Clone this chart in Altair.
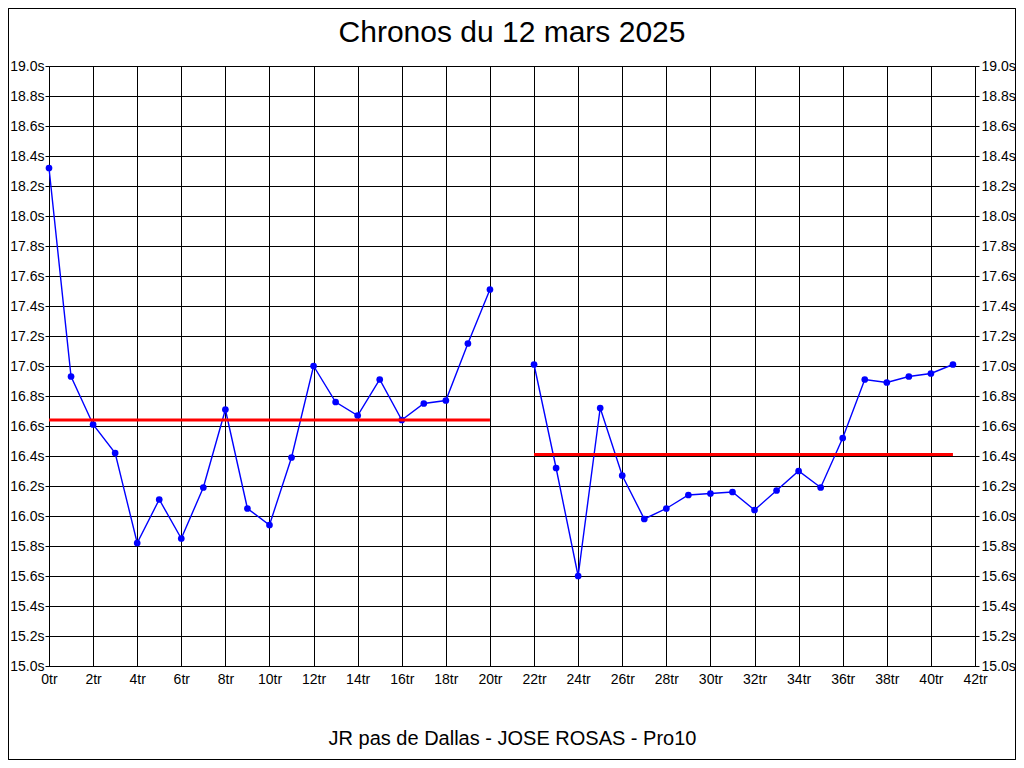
import altair as alt
import pandas as pd

# --- data ---
laps_a = list(range(0, 21))
times_a = [18.32, 16.93, 16.61, 16.42, 15.82, 16.11, 15.85, 16.19, 16.71, 16.05,
           15.94, 16.39, 17.00, 16.76, 16.67, 16.91, 16.64, 16.75, 16.77, 17.15, 17.51]
laps_b = list(range(22, 42))
times_b = [17.01, 16.32, 15.60, 16.72, 16.27, 15.98, 16.05, 16.14, 16.15, 16.16,
           16.04, 16.17, 16.30, 16.19, 16.52, 16.91, 16.89, 16.93, 16.95, 17.01]
mean_start = [0, 22]
mean_end = [20, 41]
mean_value = [16.64, 16.41]

title_text = ["Chronos du 12 mars 2025"]
x_title = "JR pas de Dallas - JOSE ROSAS - Pro10"

x_ticks = list(range(0, 43, 2))
y_ticks = [round(15 + 0.2 * i, 1) for i in range(21)]

df = pd.DataFrame({
    "lap": laps_a + laps_b,
    "time": times_a + times_b,
    "seg": ["a"] * len(laps_a) + ["b"] * len(laps_b),
})
df_mean = pd.DataFrame({"x": mean_start, "x2": mean_end, "y": mean_value})
df_title = pd.DataFrame({"t": title_text})

FONT = "Liberation Sans"
W, H = 926, 600

xscale = alt.Scale(domain=[0, 42], nice=False, zero=False)
yscale = alt.Scale(domain=[15, 19], nice=False, zero=False)

common = dict(gridColor="black", gridOpacity=1, gridWidth=1, domainColor="black",
              tickColor="black", labelColor="black", labelOverlap=False,
              labelFlush=False, labelBound=False)

xaxis = alt.Axis(values=x_ticks, labelExpr="datum.value + 'tr'", grid=True,
                 title=x_title, titleFontSize=20, titleColor="black",
                 titleFontWeight="normal", titlePadding=42, titleFont=FONT,
                 labelFontSize=14, labelFont=FONT, labelPadding=6, tickSize=0,
                 **common)
yaxis_l = alt.Axis(values=y_ticks, labelExpr="format(datum.value, '.1f') + 's'",
                   grid=True, title=None, orient="left", labelFontSize=14,
                   labelFont=FONT, tickSize=4, labelPadding=1, **common)
yaxis_r = alt.Axis(values=y_ticks, labelExpr="format(datum.value, '.1f') + 's'",
                   grid=False, title=None, orient="right", labelFontSize=14,
                   labelFont=FONT, tickSize=4, labelPadding=2, **common)

base = alt.Chart(df)

line = base.mark_line(color="#0000ff", strokeWidth=1.4).encode(
    x=alt.X("lap:Q", scale=xscale, axis=xaxis),
    y=alt.Y("time:Q", scale=yscale, axis=yaxis_l),
    detail="seg:N",
)
pts = base.mark_circle(color="#0000ff", size=45, opacity=1).encode(
    x=alt.X("lap:Q", scale=xscale, axis=xaxis),
    y=alt.Y("time:Q", scale=yscale, axis=yaxis_l),
)
means = alt.Chart(df_mean).mark_rule(color="#ff0000", strokeWidth=3).encode(
    x=alt.X("x:Q", scale=xscale, axis=xaxis),
    x2="x2:Q",
    y=alt.Y("y:Q", scale=yscale, axis=yaxis_l),
)
right_axis = alt.Chart(df).mark_point(opacity=0).encode(
    y=alt.Y("time:Q", scale=yscale, axis=yaxis_r),
)
frame = alt.Chart(df_mean).mark_rect(fill=None, stroke="black", strokeWidth=1,
                                     clip=False).encode(
    x=alt.value(-40.5), x2=alt.value(966.5), y=alt.value(-57.5), y2=alt.value(693.5)
)
title = alt.Chart(df_title).mark_text(fontSize=30, font=FONT, color="black",
                                      align="center", baseline="middle").encode(
    text="t:N", x=alt.value(W / 2), y=alt.value(-33)
)

left = alt.layer(line, pts, means, frame, title)
chart = alt.layer(left, right_axis).resolve_axis(y="independent").properties(
    width=W, height=H,
    autosize=alt.AutoSizeParams(type="none"),
    padding={"left": 41, "top": 58, "right": 41, "bottom": 94},
).configure_view(stroke="black", strokeWidth=1).configure(background="white")

chart.save("out.html", embed_options={"renderer": "svg", "actions": False})
